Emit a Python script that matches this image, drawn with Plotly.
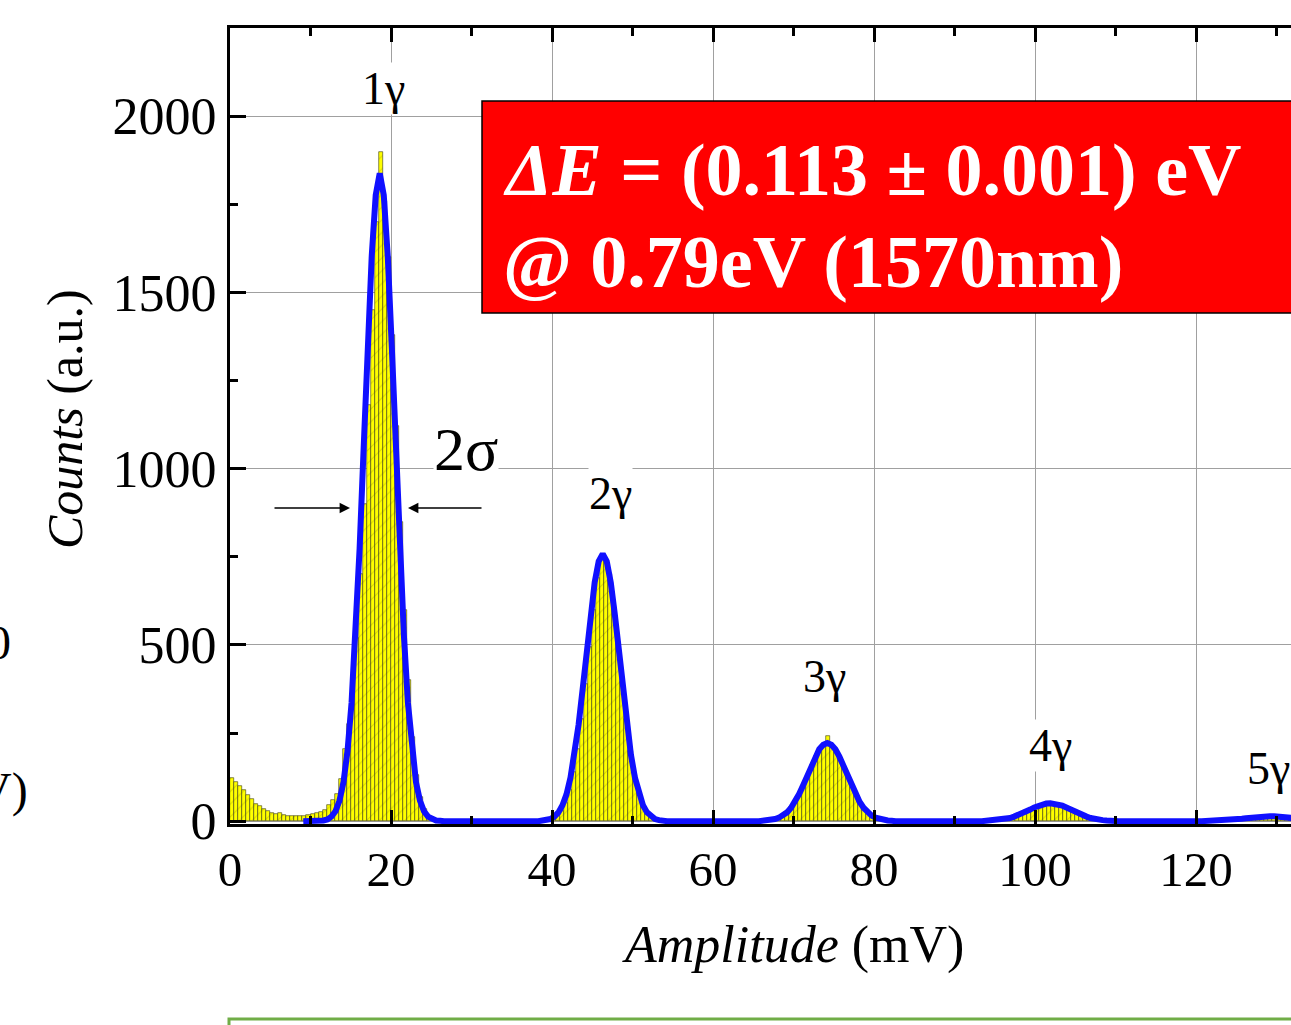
import plotly.graph_objects as go

# ---------------- data ----------------
bin_start = 0.0
bin_width = 0.5
hist_counts = [
    123, 112, 100, 88, 74, 62, 50, 42, 35, 28,          # 0-5
    24, 20, 22, 18, 15, 14, 15, 14, 16, 17,             # 5-10
    19, 22, 26, 32, 45, 60, 78, 120, 205, 275,          # 10-15
    380, 520, 700, 900, 1180, 1450, 1700, 1898, 1760, 1600,  # 15-20
    1380, 1120, 850, 600, 400, 240, 130, 70, 35, 15,    # 20-25
    8, 5, 4, 3, 3, 2, 3, 2, 3, 2,                       # 25-30
    2, 3, 2, 2, 3, 2, 2, 3, 2, 2,                       # 30-35
    3, 2, 2, 3, 3, 4, 4, 4, 5, 8,                       # 35-40
    12, 18, 30, 52, 88, 140, 205, 290, 390, 495,        # 40-45
    600, 690, 748, 745, 700, 610, 505, 395, 290, 200,   # 45-50
    130, 82, 48, 28, 16, 9, 5, 3, 3, 2,                 # 50-55
    3, 2, 2, 3, 2, 2, 3, 2, 2, 3,                       # 55-60
    2, 2, 3, 2, 2, 3, 2, 2, 3, 3,                       # 60-65
    2, 3, 3, 3, 4, 7, 11, 18, 27, 40,                   # 65-70
    58, 80, 105, 132, 160, 186, 205, 220, 241, 215,     # 70-75
    200, 178, 152, 125, 98, 73, 52, 36, 24, 15,         # 75-80
    9, 6, 4, 3, 2, 2, 3, 2, 2, 2,                       # 80-85
    2, 2, 2, 3, 2, 2, 2, 2, 3, 2,                       # 85-90
    2, 2, 2, 2, 3, 2, 2, 2, 2, 2,                       # 90-95
    3, 3, 5, 7, 10, 14, 18, 23, 28, 34,                 # 95-100
    40, 45, 49, 52, 51, 49, 46, 42, 37, 31,             # 100-105
    25, 20, 15, 11, 8, 6, 4, 3, 2, 2,                   # 105-110
    2, 1, 2, 1, 2, 1, 2, 1, 1, 2,                       # 110-115
    1, 2, 1, 1, 2, 1, 2, 1, 1, 2,                       # 115-120
    1, 2, 2, 2, 2, 3, 3, 4, 5, 6,                       # 120-125
    7, 8, 10, 11, 12, 13, 14, 15, 14, 14,               # 125-130
    13, 12, 11, 10,                                     # 130-132
]
hist_x = [bin_start + (i + 0.5) * bin_width for i in range(len(hist_counts))]

# fitted curve
fit_x = [
    # 1 gamma
    9.1, 10.6, 11.1, 11.6, 12.1, 12.6, 13.1, 13.6, 14.1, 14.6, 15.1, 15.6, 16.1, 16.6,
    17.1, 17.6, 18.1, 18.6, 19.1, 19.6, 20.1, 20.6, 21.1, 21.6, 22.1, 22.6, 23.1, 23.6,
    24.1, 24.6, 25.1, 25.6, 26.1, 26.6,
    # 2 gamma
    38.3, 38.8, 39.3, 39.8, 40.3, 40.8, 41.3, 41.8, 42.3, 42.8, 43.3, 43.8, 44.3, 44.8,
    45.3, 45.8, 46.3, 46.8, 47.3, 47.8, 48.3, 48.8, 49.3, 49.8, 50.3, 50.8, 51.3, 51.8,
    52.3, 52.8, 53.3, 53.8, 54.3,
    # 3 gamma
    65.7, 66.2, 66.7, 67.2, 67.7, 68.2, 68.7, 69.2, 69.7, 70.2, 70.7, 71.2, 71.7, 72.2,
    72.7, 73.2, 73.7, 74.2, 74.7, 75.2, 75.7, 76.2, 76.7, 77.2, 77.7, 78.2, 78.7, 79.2,
    79.7, 80.2, 80.7, 81.2, 81.7, 82.2, 82.7,
    # 4 gamma
    93.4, 93.9, 94.4, 94.9, 95.4, 95.9, 96.4, 96.9, 97.4, 97.9, 98.4, 98.9, 99.4, 99.9,
    100.4, 100.9, 101.4, 101.9, 102.4, 102.9, 103.4, 103.9, 104.4, 104.9, 105.4, 105.9,
    106.4, 106.9, 107.4, 107.9, 108.4, 108.9, 109.4, 109.9, 110.4,
    # 5 gamma
    120.7, 121.2, 121.7, 122.2, 122.7, 123.2, 123.7, 124.2, 124.7, 125.2, 125.7, 126.2,
    126.7, 127.2, 127.7, 128.2, 128.7, 129.2, 129.7, 130.2, 130.7, 131.2, 131.7, 132.2,
]
fit_y = [
    0, 0, 1, 2, 5, 13, 28, 58, 111, 200, 336, 528, 774, 1057,
    1345, 1601, 1776, 1838, 1776, 1601, 1345, 1057, 774, 528, 336, 200, 111, 58,
    28, 13, 5, 2, 1, 0,
    0, 1, 3, 6, 13, 25, 45, 76, 124, 189, 273, 373, 481, 587,
    677, 737, 758, 737, 677, 587, 481, 373, 273, 189, 124, 76, 45, 25,
    13, 6, 3, 1, 0,
    0, 1, 2, 3, 6, 10, 16, 25, 38, 55, 77, 102, 129, 157,
    183, 204, 217, 222, 217, 204, 183, 157, 129, 102, 77, 55, 38, 25,
    16, 10, 6, 3, 2, 1, 0,
    0, 1, 1, 2, 3, 4, 6, 9, 13, 17, 22, 27, 33, 39,
    44, 48, 50, 51, 50, 48, 44, 39, 33, 27, 22, 17,
    13, 9, 6, 4, 3, 2, 1, 1, 0,
    0, 0.35, 0.6, 0.9, 1.4, 1.9, 2.6, 3.5, 4.6, 5.7, 7.1, 8.5,
    9.9, 11.2, 12.4, 13.2, 13.9, 14, 13.9, 13.2, 12.4, 11.2, 9.9, 8.5,
]

peak_labels = ["1γ", "2γ", "3γ", "4γ", "5γ"]
x_ticks = [0, 20, 40, 60, 80, 100, 120]
y_ticks = [0, 500, 1000, 1500, 2000]

# ---------------- layout helpers ----------------
W, H = 1291, 1025
L, R, T, B = 230, 1291, 28, 824
def px(x):
    return (x - L) / (R - L)
def py(y):
    return (B - y) / (B - T)

FONT = "Liberation Serif"

fig = go.Figure()
fig.add_trace(go.Bar(
    x=hist_x, y=hist_counts, width=bin_width,
    marker=dict(color="#ffff00", line=dict(color="#3a3a10", width=0.6),
                pattern=dict(shape="/", fgcolor="#b5b500", size=9, solidity=0.12)),
    showlegend=False,
))
fig.add_trace(go.Scatter(
    x=fit_x, y=fit_y, mode="lines",
    line=dict(color="#1010ff", width=6),
    showlegend=False,
))

fig.update_layout(
    width=W, height=H,
    margin=dict(l=L, r=W - R, t=T, b=H - B),
    paper_bgcolor="white", plot_bgcolor="white",
    font=dict(family=FONT, color="black", size=48),
    bargap=0,
)
fig.update_xaxes(
    range=[0, 131.8], tickvals=x_ticks, ticktext=[str(v) for v in x_ticks],
    ticks="inside", ticklen=14, tickwidth=3, tickcolor="black",
    minor=dict(dtick=10, tick0=0, ticks="inside", ticklen=8, tickwidth=3, tickcolor="black", showgrid=False),
    showline=True, linewidth=3, linecolor="black", mirror="ticks",
    showgrid=True, gridcolor="#a0a0a0", gridwidth=1,
    zeroline=False,
    tickfont=dict(family=FONT, size=49),
)
fig.update_yaxes(
    range=[-8, 2250], tickvals=y_ticks, ticktext=[str(v) for v in y_ticks],
    ticks="inside", ticklen=16, tickwidth=3, tickcolor="black",
    minor=dict(dtick=250, tick0=0, ticks="inside", ticklen=8, tickwidth=3, tickcolor="black", showgrid=False),
    showline=True, linewidth=3, linecolor="black", mirror=False,
    showgrid=True, gridcolor="#a0a0a0", gridwidth=1,
    zeroline=False,
    tickfont=dict(family=FONT, size=52),
)

# axis titles
fig.add_annotation(xref="paper", yref="paper", x=px(793), y=py(945), text="<i>Amplitude</i> (mV)",
                   showarrow=False, xanchor="center", yanchor="middle",
                   font=dict(family=FONT, size=52, color="black"))
fig.add_annotation(xref="paper", yref="paper", x=px(65), y=py(419), text="<i>Counts</i> (a.u.)",
                   showarrow=False, xanchor="center", yanchor="middle", textangle=-90,
                   font=dict(family=FONT, size=50, color="black"))

# red result box
fig.add_shape(type="rect", xref="paper", yref="paper",
              x0=px(482), x1=px(1400), y0=py(313), y1=py(101),
              fillcolor="#ff0000", line=dict(color="black", width=1.5), layer="above")
fig.add_annotation(xref="paper", yref="paper", x=px(501), y=py(170), xanchor="left", yanchor="middle",
                   text="<b><i>ΔE</i> = (0.113 ± 0.001) eV</b>", showarrow=False,
                   font=dict(family=FONT, size=74, color="white"))
fig.add_annotation(xref="paper", yref="paper", x=px(501), y=py(262), xanchor="left", yanchor="middle",
                   text="<b>@ 0.79eV (1570nm)</b>", showarrow=False,
                   font=dict(family=FONT, size=74, color="white"))

# peak labels
label_pos = [(383, 88), (610, 493), (824, 676), (1050, 745), (1268, 768)]
for lab, (lx, ly) in zip(peak_labels, label_pos):
    fig.add_annotation(xref="paper", yref="paper", x=px(lx), y=py(ly), text=lab, showarrow=False,
                       xanchor="center", yanchor="middle", bgcolor="white", borderpad=0,
                       font=dict(family=FONT, size=46, color="black"))

# 2 sigma marker
fig.add_annotation(xref="paper", yref="paper", x=px(466), y=py(449), text="2σ", showarrow=False,
                   xanchor="center", yanchor="middle", bgcolor="white", borderpad=0,
                   font=dict(family=FONT, size=62, color="black"))
fig.add_annotation(xref="paper", yref="paper", x=px(350), y=py(508), ax=-77, ay=0, text="",
                   showarrow=True, arrowhead=2, arrowsize=1.3, arrowwidth=1.6, arrowcolor="black")
fig.add_annotation(xref="paper", yref="paper", x=px(408), y=py(508), ax=75, ay=0, text="",
                   showarrow=True, arrowhead=2, arrowsize=1.3, arrowwidth=1.6, arrowcolor="black")

# fragments of neighbouring slide content
fig.add_annotation(xref="paper", yref="paper", x=px(13), y=py(642), text="0", showarrow=False,
                   xanchor="right", yanchor="middle", font=dict(family=FONT, size=48, color="black"))
fig.add_annotation(xref="paper", yref="paper", x=px(30), y=py(790), text="V)", showarrow=False,
                   xanchor="right", yanchor="middle", font=dict(family=FONT, size=48, color="black"))
fig.add_shape(type="rect", xref="paper", yref="paper",
              x0=px(229), x1=px(1400), y0=py(1060), y1=py(1019),
              fillcolor="rgba(0,0,0,0)", line=dict(color="#70ad47", width=3), layer="above")

fig.write_html("out.html")
